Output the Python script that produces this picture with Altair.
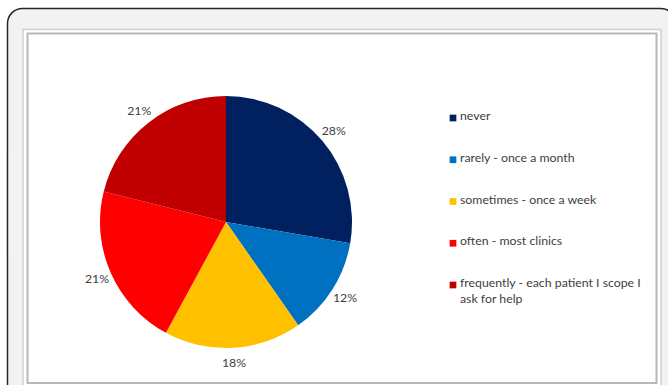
import altair as alt
import pandas as pd

categories = [
    "never",
    "rarely - once a month",
    "sometimes - once a week",
    "often - most clinics",
    "frequently - each patient I scope I\nask for help",
]
values = [27.7, 12.6, 17.6, 21.0, 21.1]
labels = ["28%", "12%", "18%", "21%", "21%"]
colors = ["#002060", "#0070C0", "#FFC000", "#FF0000", "#C00000"]

df = pd.DataFrame({
    "category": categories,
    "value": values,
    "label": labels,
    "order": list(range(len(categories))),
})
one = pd.DataFrame({"k": [0]})

FONT = "Lato"
TXT = "#404040"
FS = 12.3

color = alt.Color("category:N", sort=categories,
                  scale=alt.Scale(domain=categories, range=colors), legend=None)

frame = alt.Chart(one).mark_rect(
    fill="#f1f2f3", stroke="#262626", strokeWidth=1.5, cornerRadius=15
).encode(x=alt.value(7.5), x2=alt.value(676), y=alt.value(8.5), y2=alt.value(430))

panel_outer = alt.Chart(one).mark_rect(
    fill="#ffffff", stroke="#cfcfcf", strokeWidth=1.5
).encode(x=alt.value(23), x2=alt.value(661), y=alt.value(29.5), y2=alt.value(400))

panel_inner = alt.Chart(one).mark_rect(
    fill="#ffffff", stroke="#b8b8b8", strokeWidth=2
).encode(x=alt.value(27.5), x2=alt.value(656.5), y=alt.value(33.5), y2=alt.value(383))

pie = alt.Chart(df).mark_arc(outerRadius=126).encode(
    theta=alt.Theta("value:Q", stack=True),
    color=color,
    order=alt.Order("order:Q"),
    x=alt.value(226),
    y=alt.value(222),
)

pie_labels = alt.Chart(df).mark_text(
    radius=141, font=FONT, fontSize=FS, color=TXT
).encode(
    theta=alt.Theta("value:Q", stack=True),
    text="label:N",
    order=alt.Order("order:Q"),
    x=alt.value(226),
    y=alt.value(222),
)

ypos = alt.Y("category:N", sort=categories, axis=None,
             scale=alt.Scale(range=[118, 285], padding=0))

leg_sq = alt.Chart(df).mark_square(size=45, opacity=1).encode(
    x=alt.value(453), y=ypos, color=color
)

leg_txt = alt.Chart(df).mark_text(
    align="left", baseline="top", dy=-8, lineBreak="\n", lineHeight=16,
    font=FONT, fontSize=FS, color=TXT
).encode(x=alt.value(460), y=ypos, text="category:N")

chart = alt.layer(frame, panel_outer, panel_inner, pie, pie_labels, leg_sq, leg_txt).properties(
    width=668, height=385, autosize=alt.AutoSizeParams(type="none"), padding=0,
    background="#ffffff"
).configure_view(stroke=None)

chart.save("out.html", embed_options={"renderer": "svg", "actions": False})
